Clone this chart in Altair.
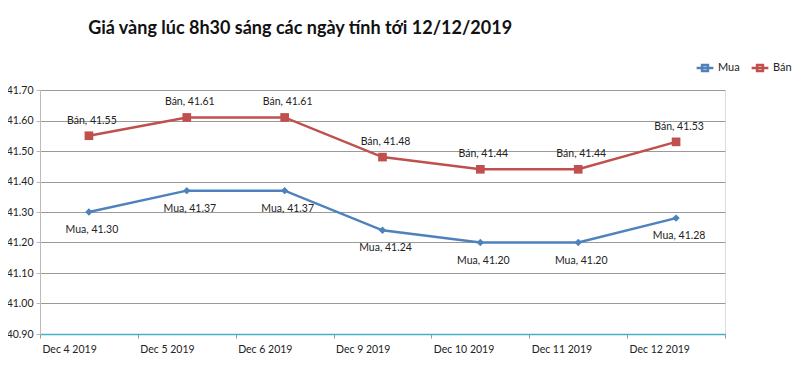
import altair as alt
import pandas as pd

dates = ["Dec 4 2019", "Dec 5 2019", "Dec 6 2019", "Dec 9 2019", "Dec 10 2019", "Dec 11 2019", "Dec 12 2019"]
mua = [41.30, 41.37, 41.37, 41.24, 41.20, 41.20, 41.28]
ban = [41.55, 41.61, 41.61, 41.48, 41.44, 41.44, 41.53]
series = ["Mua", "Bán"]
colors = ["#4f81bd", "#c0504d"]
title = "Giá vàng lúc 8h30 sáng các ngày tính tới 12/12/2019"

rows = []
for i, d in enumerate(dates):
    rows.append({"date": d, "series": "Mua", "value": mua[i], "order": i})
    rows.append({"date": d, "series": "Bán", "value": ban[i], "order": i})
df = pd.DataFrame(rows)

FONT = "Lato"

x = alt.X("date:N", sort=dates, title=None,
          scale=alt.Scale(paddingInner=0, paddingOuter=0),
          axis=alt.Axis(tickBand="extent", labelAlign="left", labelOffset=-47, labelAngle=0,
                        labelFontSize=10.5, labelColor="#222", labelPadding=6,
                        domainColor="#4bacc6", domainWidth=1.5, tickColor="#999",
                        tickSize=4, grid=False, labelFont=FONT))
y = alt.Y("value:Q", title=None,
          scale=alt.Scale(domain=[40.9, 41.7], nice=False, zero=False),
          axis=alt.Axis(values=[40.9, 41.0, 41.1, 41.2, 41.3, 41.4, 41.5, 41.6, 41.7],
                        format=".2f", labelFontSize=10.5, labelColor="#222",
                        gridColor="#9a9a9a", gridWidth=1, domainColor="#bbb",
                        tickColor="#bbb", tickSize=4, labelPadding=3, labelFont=FONT))
color = alt.Color("series:N", sort=series,
                  scale=alt.Scale(domain=series, range=colors),
                  legend=alt.Legend(title=None, orient="none", direction="horizontal",
                                    legendX=655, legendY=-32,
                                    symbolType="M-1,0L1,0M-0.35,-0.35L0.35,-0.35L0.35,0.35L-0.35,0.35Z",
                                    symbolSize=280, symbolStrokeWidth=2.5,
                                    labelFontSize=11, labelFont=FONT, labelColor="#222",
                                    columnPadding=6, symbolOffset=0, labelOffset=3))

base = alt.Chart(df).encode(x=x, y=y)

lines = base.mark_line(strokeWidth=2.5).encode(color=color, detail="series:N", order="order:Q")

pts_mua = base.transform_filter(alt.datum.series == "Mua").mark_point(
    shape="diamond", filled=True, size=55, color=colors[0], opacity=1)
pts_ban = base.transform_filter(alt.datum.series == "Bán").mark_point(
    shape="square", filled=True, size=75, color=colors[1], opacity=1)

lab = base.transform_calculate(label="datum.series + ', ' + format(datum.value, '.2f')")
lab_mua = lab.transform_filter(alt.datum.series == "Mua").mark_text(
    dy=18, dx=3, fontSize=10.5, font=FONT, color="#222").encode(text="label:N")
lab_ban = lab.transform_filter(alt.datum.series == "Bán").mark_text(
    dy=-15, dx=3, fontSize=10.5, font=FONT, color="#222").encode(text="label:N")

chart = alt.layer(lines, pts_mua, pts_ban, lab_mua, lab_ban).properties(
    width=685, height=244,
    title=alt.TitleParams(title, anchor="start", dx=82, offset=20, fontSize=18,
                          font=FONT, fontWeight="bold", color="#111"),
    autosize=alt.AutoSizeParams(type="none"),
    padding={"left": 32, "top": 82, "right": 67, "bottom": 30},
).configure_view(stroke=None).configure(background="white")

chart.save("out.html", embed_options={"renderer": "svg", "actions": False})
